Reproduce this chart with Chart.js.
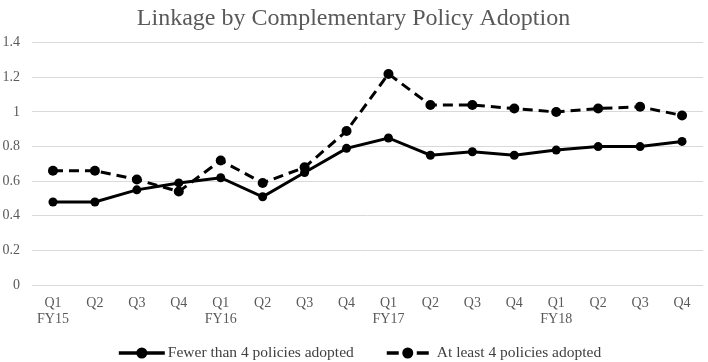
<!DOCTYPE html>
<html><head><meta charset="utf-8">
<script src="https://cdn.jsdelivr.net/npm/chart.js@4/dist/chart.umd.min.js"></script>
<style>html,body{margin:0;padding:0;background:#fff}#wrap{width:708px;height:362px}</style>
</head><body><div id="wrap"><canvas id="c" width="708" height="362"></canvas></div>
<script>
const quarters = ["Q1","Q2","Q3","Q4","Q1","Q2","Q3","Q4","Q1","Q2","Q3","Q4","Q1","Q2","Q3","Q4"];
const fiscalYears = ["FY15","","","","FY16","","","","FY17","","","","FY18","","",""];
const fewerThan4 = [0.48,0.48,0.55,0.59,0.62,0.51,0.65,0.79,0.85,0.75,0.77,0.75,0.78,0.80,0.80,0.83];
const atLeast4 = [0.66,0.66,0.61,0.54,0.72,0.59,0.68,0.89,1.22,1.04,1.04,1.02,1.00,1.02,1.03,0.98];
const yTicks = [0,0.2,0.4,0.6,0.8,1,1.2,1.4];

const labels = quarters.map((q,i)=> fiscalYears[i] ? [q, fiscalYears[i]] : [q]);
const FONT = "'Liberation Serif', 'Times New Roman', serif";

// Legend drawn below the axis (Excel-style line + marker icons)
const bottomLegend = {
  id: 'bottomLegend',
  afterDraw(chart) {
    const ctx = chart.ctx;
    const dss = chart.data.datasets;
    ctx.save();
    ctx.font = '15.5px ' + FONT;
    ctx.textBaseline = 'middle';
    ctx.textAlign = 'left';
    const iconW = [46, 42], iconGap = [3, 8], itemGap = 33;
    const widths = dss.map(d => ctx.measureText(d.label).width);
    let total = 0;
    dss.forEach((d, i) => { total += iconW[i] + iconGap[i] + widths[i]; });
    total += itemGap * (dss.length - 1);
    let x = chart.width / 2 + 6 - total / 2;
    const y = 353;
    dss.forEach((d, i) => {
      ctx.strokeStyle = '#000'; ctx.fillStyle = '#000'; ctx.lineWidth = 3.5;
      if (d.borderDash && d.borderDash.length) ctx.setLineDash([12, 18]); else ctx.setLineDash([]);
      ctx.beginPath(); ctx.moveTo(x, y); ctx.lineTo(x + iconW[i], y); ctx.stroke();
      ctx.setLineDash([]);
      ctx.beginPath(); ctx.arc(x + iconW[i] / 2, y, 5.5, 0, Math.PI * 2); ctx.fill();
      x += iconW[i] + iconGap[i];
      ctx.fillStyle = '#404040';
      ctx.fillText(d.label, x, y - 0.5);
      x += widths[i] + itemGap;
    });
    ctx.restore();
  }
};

new Chart(document.getElementById('c'), {
  type: 'line',
  data: {
    labels: labels,
    datasets: [
      { label: 'Fewer than 4 policies adopted', data: fewerThan4, borderColor:'#000', backgroundColor:'#000',
        borderWidth: 3, pointRadius: 4.5, pointBackgroundColor:'#000', pointBorderWidth:0, tension:0 },
      { label: 'At least 4 policies adopted', data: atLeast4, borderColor:'#000', backgroundColor:'#000',
        borderWidth: 3, borderDash:[10,6], pointRadius: 5, pointBackgroundColor:'#000', pointBorderWidth:0, tension:0 }
    ]
  },
  options: {
    responsive: false,
    animation: false,
    devicePixelRatio: 1,
    layout: { padding: { left: 0, right: 1, top: 0, bottom: 33.8 } },
    plugins: {
      title: { display: true, text: 'Linkage by Complementary Policy Adoption', color:'#595959',
        font: { family: FONT, size: 24, weight: 'normal' }, padding: { top: 4, bottom: 10 } },
      legend: { display: false },
      tooltip: { enabled: false }
    },
    scales: {
      x: { offset: true, grid: { display: false, drawTicks: false }, border: { display: false },
        afterFit: (ax)=>{ ax.height = 43.2; },
        ticks: { color:'#595959', font:{ family: FONT, size: 14, lineHeight: 1.2 }, maxRotation: 0, autoSkip: false, padding: 9.6 } },
      y: { min: 0, max: 1.4, afterBuildTicks: (ax)=>{ ax.ticks = yTicks.map(v=>({value:v})); },
        afterFit: (ax)=>{ ax.width = 32; },
        grid: { color:'#d9d9d9', lineWidth: 1, drawTicks: false }, border: { display: false },
        ticks: { color:'#595959', font:{ family: FONT, size: 14 }, padding: 12, callback: (v)=> String(v) } }
    }
  },
  plugins: [bottomLegend]
});
</script></body></html>
